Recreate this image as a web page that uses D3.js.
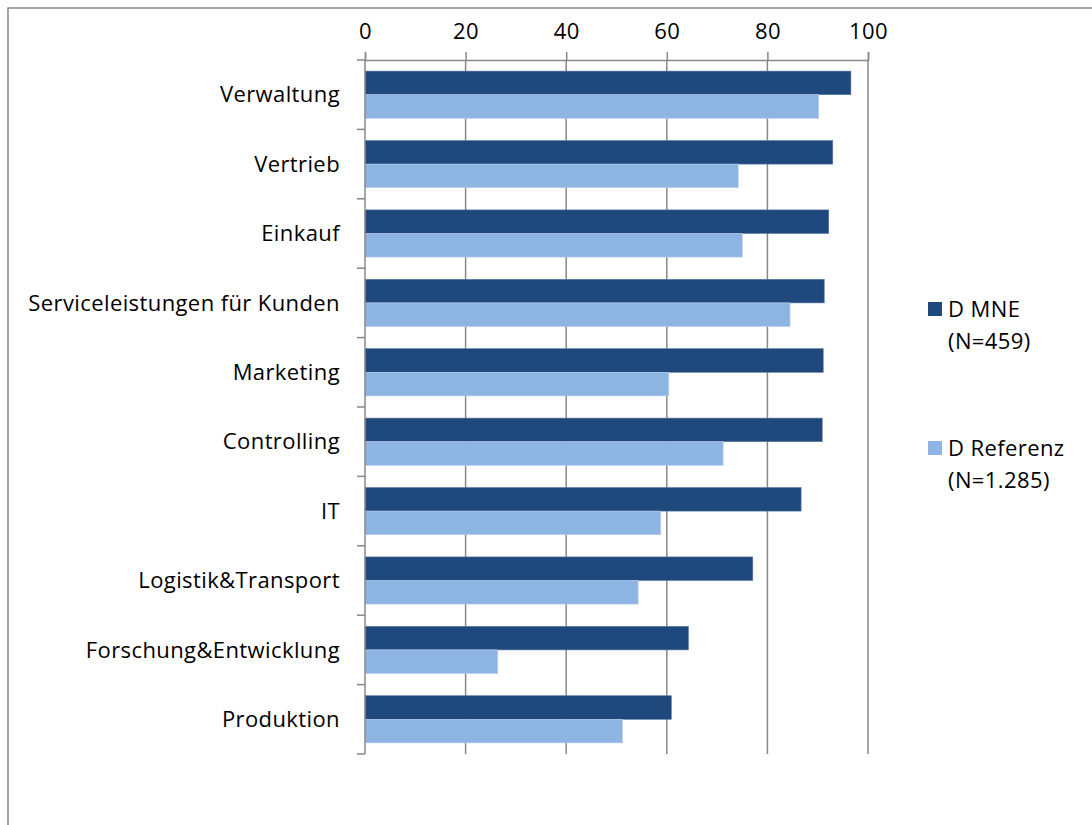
<!DOCTYPE html>
<html><head><meta charset="utf-8">
<script src="https://cdn.jsdelivr.net/npm/d3@7"></script>
<style>html,body{margin:0;padding:0;background:#fff;}svg{display:block;}text{letter-spacing:0.4px;}</style>
</head><body>
<svg id="c" width="1092" height="825"></svg>
<script>
const categories = ["Verwaltung","Vertrieb","Einkauf","Serviceleistungen für Kunden","Marketing","Controlling","IT","Logistik&Transport","Forschung&Entwicklung","Produktion"];
const seriesNames = ["D MNE", "D Referenz"];
const seriesSub = ["(N=459)", "(N=1.285)"];
const mneValues = [96.6, 93.0, 92.2, 91.3, 91.1, 90.9, 86.7, 77.1, 64.3, 60.9];
const refValues = [90.2, 74.2, 75.0, 84.5, 60.4, 71.2, 58.8, 54.3, 26.4, 51.2];
const xTicks = [0, 20, 40, 60, 80, 100];
const colors = ["#1f497d", "#8db4e3"];

const svg = d3.select("#c");
const font = "'Open Sans', 'Noto Sans', sans-serif";
const fs = 22;
const grid = "#888888";

// outer frame (left and top)
svg.append("path").attr("d", "M8,825 V8 H1092").attr("fill","none").attr("stroke", grid).attr("stroke-width", 1.5);

const x = d3.scaleLinear().domain([0, 100]).range([365, 868]);
const y = d3.scaleBand().domain(categories).range([60, 754]).paddingInner(0.32).paddingOuter(0.16);
const sub = d3.scaleBand().domain(seriesNames).range([0, y.bandwidth()]);

// gridlines
svg.append("g").selectAll("line").data(xTicks.slice(1)).join("line")
  .attr("x1", d => x(d)).attr("x2", d => x(d)).attr("y1", 60).attr("y2", 754)
  .attr("stroke", grid).attr("stroke-width", 1.5);

// top axis
const gx = svg.append("g").attr("transform", "translate(0,60)")
  .call(d3.axisTop(x).tickValues(xTicks).tickSize(8).tickPadding(13).tickFormat(d3.format("d")));
gx.select(".domain").attr("stroke", grid).attr("stroke-width", 1.5);
gx.selectAll(".tick line").attr("stroke", grid).attr("stroke-width", 1.5);
gx.selectAll("text").attr("font-family", font).attr("font-size", fs).attr("fill", "#000");

// bars
const rows = categories.map((c, i) => ({c, vals: [mneValues[i], refValues[i]]}));
const g = svg.append("g");
rows.forEach(r => {
  r.vals.forEach((v, k) => {
    g.append("rect")
      .attr("x", x(0)).attr("y", y(r.c) + sub(seriesNames[k]))
      .attr("width", x(v) - x(0)).attr("height", sub.bandwidth())
      .attr("fill", colors[k]).attr("stroke", k === 0 ? "#5b7aa3" : "#b8cfee").attr("stroke-width", 0.6);
  });
});

// left axis
const bounds = d3.range(categories.length + 1).map(i => 60 + i * (694 / categories.length));
svg.append("line").attr("x1", 365).attr("x2", 365).attr("y1", 60).attr("y2", 754).attr("stroke", grid).attr("stroke-width", 1.5);
svg.append("g").selectAll("line").data(bounds).join("line")
  .attr("x1", 357).attr("x2", 365).attr("y1", d => d).attr("y2", d => d)
  .attr("stroke", grid).attr("stroke-width", 1.5);
svg.append("g").selectAll("text").data(categories).join("text")
  .attr("x", 340).attr("y", (d, i) => (bounds[i] + bounds[i+1]) / 2)
  .attr("dy", "0.35em").attr("text-anchor", "end")
  .attr("font-family", font).attr("font-size", fs).attr("fill", "#000").text(d => d);

// legend
const leg = svg.append("g");
const legY = [302, 441];
seriesNames.forEach((n, k) => {
  leg.append("rect").attr("x", 928).attr("y", legY[k]).attr("width", 14).attr("height", 14).attr("fill", colors[k]);
  leg.append("text").attr("x", 948).attr("y", legY[k] + 15).attr("font-family", font).attr("font-size", fs).attr("fill", "#000").text(n);
  leg.append("text").attr("x", 948).attr("y", legY[k] + 47).attr("font-family", font).attr("font-size", fs).attr("fill", "#000").text(seriesSub[k]);
});
</script>
</body></html>
